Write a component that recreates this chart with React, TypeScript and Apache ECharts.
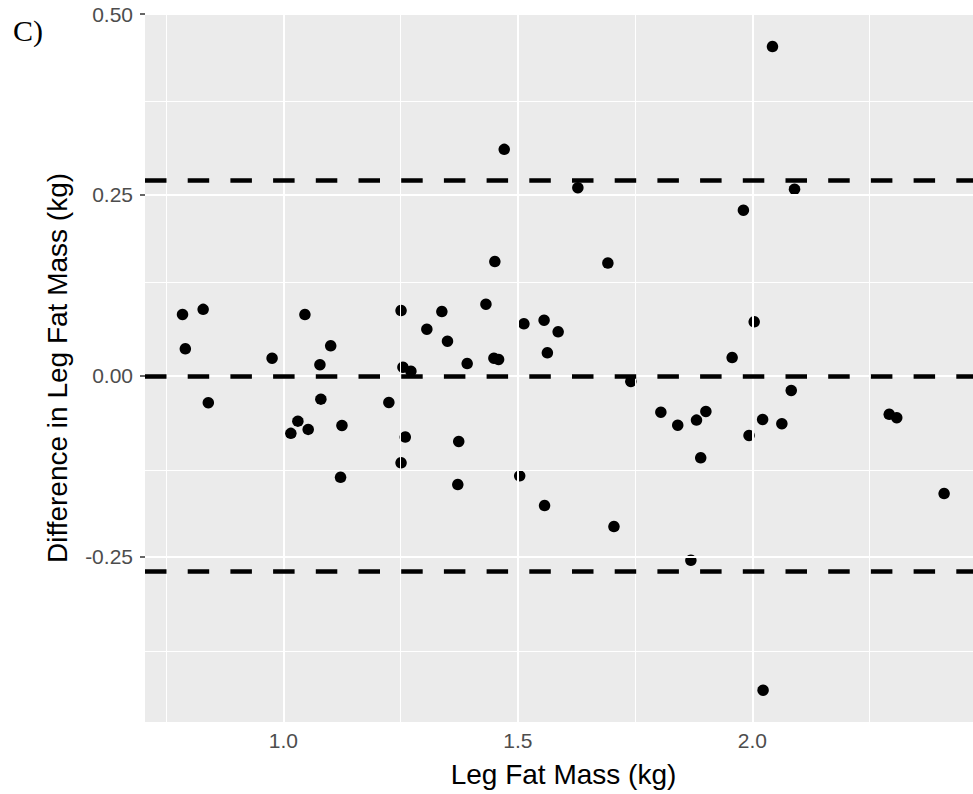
import React, { useEffect, useRef } from "react";
import * as echarts from "echarts";

// Bland-Altman style data: mean leg fat mass (kg) vs difference (kg)
const legFatMass: number[] = [
  0.785, 0.829, 0.791, 0.840, 0.976, 1.046, 1.101, 1.078, 1.080, 1.031,
  1.016, 1.053, 1.125, 1.122, 1.225, 1.251, 1.255, 1.272, 1.306, 1.338,
  1.350, 1.392, 1.432, 1.451, 1.449, 1.459, 1.260, 1.251, 1.374, 1.372,
  1.504, 1.513, 1.556, 1.586, 1.563, 1.692, 1.741, 1.805, 1.841, 1.881,
  1.901, 1.890, 1.957, 2.004, 1.993, 2.022, 2.063, 2.083, 2.292, 2.308,
  2.409, 1.471, 1.628, 1.705, 1.869, 2.023, 2.043, 1.981, 2.090, 1.557,
];
const differences: number[] = [
  0.085, 0.092, 0.0375, -0.037, 0.0246, 0.0849, 0.0417, 0.0155, -0.032, -0.0624,
  -0.0793, -0.0738, -0.0683, -0.140, -0.0366, 0.0904, 0.0121, 0.0066, 0.0646, 0.0890,
  0.0480, 0.0172, 0.0991, 0.158, 0.0246, 0.0228, -0.0844, -0.120, -0.0904, -0.150,
  -0.138, 0.072, 0.077, 0.061, 0.032, 0.156, -0.0076, -0.050, -0.068, -0.061,
  -0.049, -0.113, 0.0255, 0.0748, -0.0821, -0.060, -0.066, -0.020, -0.053, -0.0577,
  -0.1625, 0.313, 0.260, -0.208, -0.2546, -0.434, 0.455, 0.229, 0.258, -0.179,
];

// Reference lines: mean difference and limits of agreement
const meanDifference = 0;
const limitsOfAgreement: number[] = [0.274, -0.274];

// Axis ticks and grid lines
const xTickValues: number[] = [1.0, 1.5, 2.0];
const xMinorGrid: number[] = [0.75, 1.25, 1.75, 2.25];
const yTickValues: number[] = [-0.25, 0, 0.25, 0.5];
const yMinorGrid: number[] = [-0.375, -0.125, 0.125, 0.375];

const xRange: [number, number] = [0.705, 2.4706];
const yRange: [number, number] = [-0.478, 0.5];

const panelLabel = "C)";
const xTitle = "Leg Fat Mass (kg)";
const yTitle = "Difference in Leg Fat Mass (kg)";

export default function App() {
  const ref = useRef<HTMLDivElement>(null);

  useEffect(() => {
    if (!ref.current) return;
    const chart = echarts.init(ref.current, undefined, { renderer: "svg" });
    const font = "'Liberation Sans', Arial, Helvetica, sans-serif";
    const points = legFatMass.map((x, i) => [x, differences[i]]);

    const gridLines: any[] = [];
    xMinorGrid.forEach((v) =>
      gridLines.push({ xAxis: v, lineStyle: { color: "#ffffff", width: 1, type: "solid" } })
    );
    yMinorGrid.forEach((v) =>
      gridLines.push({ yAxis: v, lineStyle: { color: "#ffffff", width: 1, type: "solid" } })
    );
    xTickValues.forEach((v) =>
      gridLines.push({ xAxis: v, lineStyle: { color: "#ffffff", width: 2, type: "solid" } })
    );
    yTickValues.forEach((v) =>
      gridLines.push({ yAxis: v, lineStyle: { color: "#ffffff", width: 2, type: "solid" } })
    );

    const refLines = [meanDifference, ...limitsOfAgreement].map((v) => ({ yAxis: v }));

    chart.setOption({
      animation: false,
      grid: {
        left: 145,
        right: 0,
        top: 14,
        bottom: 72,
        show: true,
        backgroundColor: "#EBEBEB",
        borderWidth: 0,
      },
      graphic: [
        {
          type: "text",
          left: 13,
          top: 15,
          style: {
            text: panelLabel,
            font: "30px 'Liberation Serif', 'Times New Roman', serif",
            fill: "#000000",
          },
        },
      ],
      xAxis: {
        type: "value",
        min: xRange[0],
        max: xRange[1],
        name: xTitle,
        nameLocation: "middle",
        nameGap: 38,
        nameTextStyle: {
          fontFamily: font,
          fontSize: 28,
          color: "#000000",
          verticalAlign: "top",
          padding: [0, 0, 0, 9],
        },
        axisLine: { show: false },
        splitLine: { show: false },
        axisTick: {
          show: true,
          customValues: xTickValues,
          length: 5,
          lineStyle: { color: "#333333", width: 1.5 },
        },
        axisLabel: {
          customValues: xTickValues,
          formatter: (v: number) => v.toFixed(1),
          fontFamily: font,
          fontSize: 21,
          color: "#4D4D4D",
          margin: 8,
        },
      },
      yAxis: {
        type: "value",
        min: yRange[0],
        max: yRange[1],
        name: yTitle,
        nameLocation: "middle",
        nameGap: 74,
        nameTextStyle: { fontFamily: font, fontSize: 28, color: "#000000" },
        axisLine: { show: false },
        splitLine: { show: false },
        axisTick: {
          show: true,
          customValues: yTickValues,
          length: 5,
          lineStyle: { color: "#333333", width: 1.5 },
        },
        axisLabel: {
          customValues: yTickValues,
          formatter: (v: number) => v.toFixed(2),
          fontFamily: font,
          fontSize: 21,
          color: "#4D4D4D",
          margin: 12,
        },
      },
      series: [
        {
          type: "scatter",
          name: "grid",
          data: [],
          silent: true,
          z: 1,
          markLine: {
            silent: true,
            symbol: "none",
            label: { show: false },
            emphasis: { disabled: true },
            data: gridLines,
          },
        },
        {
          type: "scatter",
          name: "points",
          data: points,
          symbol: "circle",
          symbolSize: 11.5,
          itemStyle: { color: "#000000", opacity: 1 },
          z: 3,
          silent: true,
        },
        {
          type: "scatter",
          name: "reference",
          data: [],
          silent: true,
          z: 4,
          markLine: {
            silent: true,
            symbol: "none",
            label: { show: false },
            emphasis: { disabled: true },
            lineStyle: { color: "#000000", width: 4.5, type: [21.5, 21.2] },
            data: refLines,
          },
        },
      ],
    });

    return () => chart.dispose();
  }, []);

  return (
    <div
      ref={ref}
      style={{ position: "fixed", left: 0, top: 0, width: 973, height: 794, background: "#ffffff" }}
    />
  );
}
